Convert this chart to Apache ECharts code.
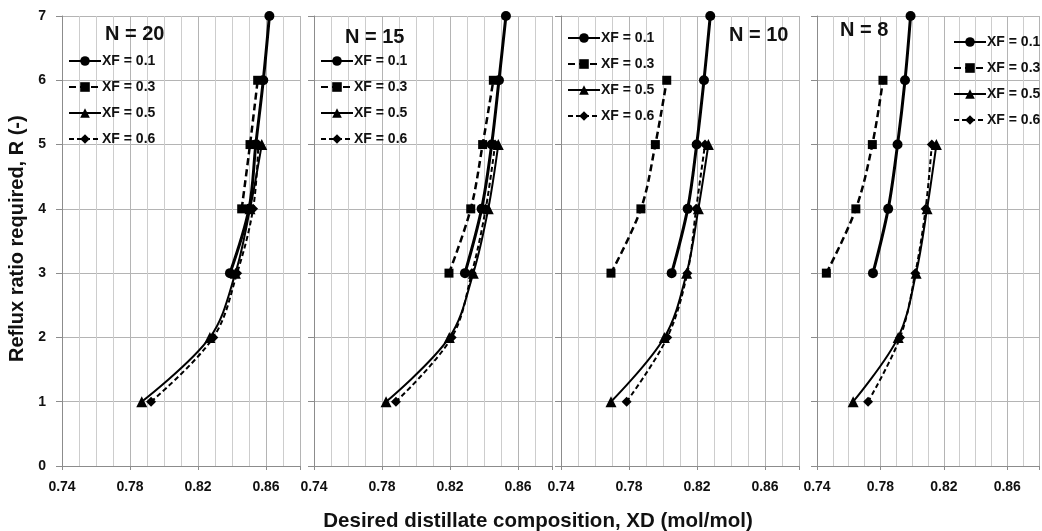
<!DOCTYPE html>
<html>
<head>
<meta charset="utf-8">
<script src="https://cdn.jsdelivr.net/npm/echarts@6/dist/echarts.min.js"></script>
<style>
  html, body { margin: 0; padding: 0; background: #fff; }
  #chart { width: 1042px; height: 531px; }
</style>
</head>
<body>
<div id="chart"></div>
<script>
// Reflux ratio needed for a given distillate purity, four column sizes
const panelTitles = ['N = 20', 'N = 15', 'N = 10', 'N = 8'];
const seriesNames = ['XF = 0.1', 'XF = 0.3', 'XF = 0.5', 'XF = 0.6'];
const xTicks = [0.74, 0.78, 0.82, 0.86];

// Reflux ratio values (y) for each feed composition
const rXF01 = [3, 4, 5, 6, 7];
const rXF03 = [3, 4, 5, 6];
const rXF05 = [1, 2, 3, 4, 5];
const rXF06 = [1, 2, 3, 4, 5];

// Distillate composition XD for N = 20
const n20XF01 = [0.8388, 0.8500, 0.8540, 0.8584, 0.8620];
const n20XF03 = [null, 0.8457, 0.8506, 0.8551];
const n20XF05 = [0.7869, 0.8270, 0.8420, 0.8506, 0.8575];
const n20XF06 = [0.7924, 0.8290, 0.8430, 0.8524, 0.8555];

// N = 15
const n15XF01 = [0.8288, 0.8386, 0.8445, 0.8488, 0.8529];
const n15XF03 = [0.8194, 0.8322, 0.8392, 0.8455];
const n15XF05 = [0.7824, 0.8196, 0.8337, 0.8425, 0.8484];
const n15XF06 = [0.7882, 0.8210, 0.8328, 0.8410, 0.8465];

// N = 10
const n10XF01 = [0.8051, 0.8145, 0.8198, 0.8241, 0.8278];
const n10XF03 = [0.7694, 0.7870, 0.7955, 0.8022];
const n10XF05 = [0.7694, 0.8008, 0.8139, 0.8208, 0.8267];
const n10XF06 = [0.7786, 0.8025, 0.8143, 0.8195, 0.8247];

// N = 8
const n8XF01 = [0.7753, 0.7849, 0.7908, 0.7955, 0.7990];
const n8XF03 = [0.7459, 0.7645, 0.7749, 0.7816];
const n8XF05 = [0.7628, 0.7912, 0.8025, 0.8094, 0.8153];
const n8XF06 = [0.7722, 0.7924, 0.8020, 0.8085, 0.8124];

const panelData = [
  [n20XF01, n20XF03, n20XF05, n20XF06],
  [n15XF01, n15XF03, n15XF05, n15XF06],
  [n10XF01, n10XF03, n10XF05, n10XF06],
  [n8XF01, n8XF03, n8XF05, n8XF06]
];
const rValues = [rXF01, rXF03, rXF05, rXF06];

const FONT = '"Liberation Sans", Arial, sans-serif';
const INK = '#111';

const styles = [
  { symbol: 'circle', symbolSize: 10, width: 3, type: 'solid' },
  { symbol: 'rect', symbolSize: 9, width: 2.5, type: [7, 4] },
  { symbol: 'triangle', symbolSize: 11, width: 2, type: 'solid' },
  { symbol: 'diamond', symbolSize: 10, width: 2, type: [5, 3] }
];

const gridLefts = [62, 314, 561, 817];
const plotWidth = 238;

const grids = gridLefts.map(l => ({ left: l, top: 16, width: plotWidth, height: 450 }));

const xAxes = gridLefts.map((l, i) => ({
  type: 'value', gridIndex: i, min: 0.74, max: 0.88, interval: 0.04,
  axisLine: { show: true, lineStyle: { color: '#8c8c8c', width: 1 } },
  axisTick: { show: true, length: 4, lineStyle: { color: '#8c8c8c' } },
  minorTick: { show: false, splitNumber: 4 },
  splitLine: { show: true, lineStyle: { color: '#b4b4b4', width: 1 } },
  minorSplitLine: { show: true, lineStyle: { color: '#cdcdcd', width: 1 } },
  axisLabel: {
    margin: 14, color: INK, fontFamily: FONT, fontWeight: 'bold', fontSize: 14,
    formatter: v => xTicks.some(t => Math.abs(t - v) < 1e-6) ? v.toFixed(2) : ''
  }
}));

const yAxes = gridLefts.map((l, i) => ({
  type: 'value', gridIndex: i, min: 0, max: 7, interval: 1,
  axisLine: { show: true, lineStyle: { color: '#8c8c8c', width: 1 } },
  axisTick: { show: true, length: 6, lineStyle: { color: '#8c8c8c' } },
  splitLine: { show: true, lineStyle: { color: '#b4b4b4', width: 1 } },
  axisLabel: {
    show: i === 0, margin: 16, color: INK, fontFamily: FONT, fontWeight: 'bold', fontSize: 14
  }
}));

const series = [];
panelData.forEach((sets, p) => {
  sets.forEach((xs, s) => {
    const st = styles[s];
    const pts = [];
    xs.forEach((x, k) => { if (x !== null) pts.push([x, rValues[s][k]]); });
    series.push({
      name: seriesNames[s], type: 'line', xAxisIndex: p, yAxisIndex: p,
      data: pts, smooth: 0.35,
      symbol: st.symbol, symbolSize: st.symbolSize,
      itemStyle: { color: '#000' },
      lineStyle: { color: '#000', width: st.width, type: st.type },
      emphasis: { disabled: true }, z: 3 + s
    });
  });
});

const legendPos = [
  { left: 68, top: 54 },
  { left: 320, top: 54 },
  { left: 567, top: 31 },
  { left: 953, top: 35 }
];
const legends = legendPos.map(pos => ({
  left: pos.left, top: pos.top, orient: 'vertical', padding: 0,
  itemWidth: 32, itemHeight: 12, itemGap: 12,
  data: seriesNames, selectedMode: false,
  textStyle: { color: INK, fontFamily: FONT, fontWeight: 'bold', fontSize: 14, padding: [0, 0, 0, -4] }
}));

const titlePos = [
  { left: 105, top: 24 },
  { left: 345, top: 27 },
  { left: 729, top: 25 },
  { left: 840, top: 20 }
];
const titles = titlePos.map((pos, i) => ({
  text: panelTitles[i], left: pos.left, top: pos.top, padding: 0,
  textStyle: { color: INK, fontFamily: FONT, fontWeight: 'bold', fontSize: 20 }
}));

const chart = echarts.init(document.getElementById('chart'), null, { renderer: 'canvas' });
chart.setOption({
  animation: false,
  backgroundColor: '#fff',
  title: titles,
  legend: legends,
  grid: grids,
  xAxis: xAxes,
  yAxis: yAxes,
  series: series,
  graphic: [
    {
      type: 'text', x: 538, y: 511,
      style: { text: 'Desired distillate composition, XD (mol/mol)', fill: INK,
        font: 'bold 20.5px ' + FONT, textAlign: 'center' }
    },
    {
      type: 'text', x: 7, y: 362, rotation: Math.PI / 2,
      style: { text: 'Reflux ratio required, R (-)', fill: INK,
        font: 'bold 20px ' + FONT }
    }
  ]
});
</script>
</body>
</html>
